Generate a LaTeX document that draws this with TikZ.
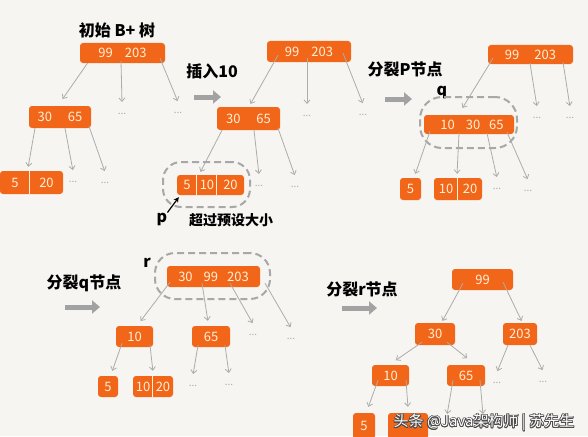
\documentclass[tikz,border=0pt]{standalone}
\usepackage{fontspec}
\usepackage{tikz}
\usetikzlibrary{positioning}
\usetikzlibrary{calc}
\usepgflibrary{arrows.meta}
\usepackage{xcolor}
\usepackage{contour}
\newfontfamily\cjk{Noto Sans CJK SC}
\definecolor{paper}{RGB}{246,245,241}
\definecolor{bnode}{RGB}{242,102,26}
\definecolor{keytext}{RGB}{255,240,214}
\definecolor{ptrgray}{RGB}{172,172,172}
\definecolor{movegray}{RGB}{162,162,162}
\definecolor{ringgray}{RGB}{168,168,168}
\contourlength{0.7pt}

\begin{document}
\begin{tikzpicture}[x=1pt, y=-1pt,
    keybox/.style={fill=bnode, rounded corners=3pt, inner sep=0pt, text=keytext, font=\cjk\fontsize{13}{13}\selectfont},
    keycut/.style={draw=keytext, line width=0.9pt},
    ptr/.style={draw=ptrgray, line width=0.8pt, -{Straight Barb[length=3.5pt,width=6pt]}, shorten >=1pt},
    dotsnode/.style={anchor=north, inner sep=0pt, text height=11pt, text depth=0pt, text=ptrgray, font=\cjk\fontsize{10}{10}\selectfont},
    dashring/.style={draw=ringgray, line width=2pt, dash pattern=on 7pt off 4pt},
    movearrow/.style={draw=movegray, line width=5pt, -{Triangle[length=8pt,width=13pt]}},
    steplabel/.style={font=\cjk\bfseries\fontsize{16}{18}\selectfont, inner sep=0pt},
    pointer/.style={draw=black, line width=1.2pt, -{Stealth[length=5pt,width=5pt]}}]
    \path[fill=paper] (0,0) rectangle (588,436);
    \useasboundingbox (0,0) rectangle (588,436);

    % initial tree
    \node[steplabel] (title1) at (117,30) {初始 B+ 树};
    \node[keybox, minimum width=85pt, minimum height=20pt] (root1) at (122.5,53) {99\hspace{12pt}203};
    \node[keybox, minimum width=62pt, minimum height=22pt] (node1) at (60,117) {30\hspace{16pt}65};
    \node[keybox, minimum height=23pt] (leaf1) at (31.5,182.5) {\makebox[30pt]{5}\makebox[33pt]{20}};
    \draw[keycut] ([xshift=30pt]leaf1.north west) -- ([xshift=30pt]leaf1.south west);
    \node[dotsnode] (dots1a) at (122,103) {...};
    \node[dotsnode] (dots1b) at (178,102) {...};
    \node[dotsnode] (dots1c) at (73,171) {...};
    \node[dotsnode] (dots1d) at (105,172) {...};
    \draw[ptr] ([xshift=-35pt]root1.south) -- ([xshift=2pt,yshift=6pt]node1.north);
    \draw[ptr] ([xshift=-1.5pt,yshift=2pt]root1.south) -- (dots1a.north);
    \draw[ptr] ([xshift=37.5pt,yshift=5pt]root1.south) -- (dots1b.north);
    \draw[ptr] ([xshift=-25pt]node1.south) -- ([xshift=-3.5pt,yshift=3pt]leaf1.north);
    \draw[ptr] ([xshift=5pt]node1.south) -- (dots1c.north);
    \draw[ptr] ([xshift=29pt,yshift=2pt]node1.south) -- (dots1d.north);

    % insert 10
    \node[steplabel] (title2) at (212,71) {插入10};
    \path[movearrow] (194,97) -- (221,97);
    \node[keybox, minimum width=84pt, minimum height=21pt] (root2) at (309,51.5) {99\hspace{12pt}203};
    \node[keybox, minimum width=63pt, minimum height=23pt] (node2) at (248.5,118.5) {30\hspace{16pt}65};
    \node[dashring, minimum width=87pt, minimum height=45pt, rounded corners=18pt] (ringp) at (206.5,184.5) {};
    \node[keybox, minimum height=20pt] (leaf2) at (210.5,185) {\makebox[20pt]{5}\makebox[20pt]{10}\makebox[27pt]{20}};
    \draw[keycut] ([xshift=20pt]leaf2.north west) -- ([xshift=20pt]leaf2.south west);
    \draw[keycut] ([xshift=40pt]leaf2.north west) -- ([xshift=40pt]leaf2.south west);
    \node[dotsnode] (dots2a) at (307,105) {...};
    \node[dotsnode] (dots2b) at (363,104) {...};
    \node[dotsnode] (dots2c) at (259,175) {...};
    \node[dotsnode] (dots2d) at (295,176) {...};
    \draw[ptr] ([xshift=-31pt,yshift=7pt]root2.south) -- ([xshift=1.5pt,yshift=2pt]node2.north);
    \draw[ptr] ([xshift=-2pt,yshift=4pt]root2.south) -- (dots2a.north);
    \draw[ptr] ([xshift=34pt,yshift=9pt]root2.south) -- (dots2b.north);
    \draw[ptr] ([xshift=-26.5pt]node2.south) -- ([xshift=-10.5pt,yshift=2pt]leaf2.north);
    \draw[ptr] ([xshift=5.5pt]node2.south) -- (dots2c.north);
    \draw[ptr] ([xshift=29.5pt,yshift=2pt]node2.south) -- (dots2d.north);
    \node[steplabel] (plabel) at (162,219) {p};
    \draw[pointer] (plabel.north east) -- ([xshift=2pt,yshift=-2pt]leaf2.south west);
    \node[steplabel, font=\cjk\bfseries\fontsize{14}{16}\selectfont] (note2) at (231,220) {超过预设大小};

    % split p
    \node[steplabel] (title3) at (405,69) {分裂P节点};
    \path[movearrow] (385,99) -- (412,99);
    \node[keybox, minimum width=85pt, minimum height=19pt] (root3) at (530.5,54.5) {99\hspace{15pt}203};
    \node[steplabel] (qlabel) at (442,92) {q};
    \node[dashring, minimum width=97pt, minimum height=51pt, rounded corners=22pt] (ringq) at (468.5,122.5) {};
    \node[keybox, minimum width=90pt, minimum height=19pt] (node3) at (469,124.5) {\hspace{6pt}10\hspace{11pt}30\hspace{9pt}65};
    \node[keybox, minimum width=21pt, minimum height=22pt] (leaf3a) at (410.5,189) {5};
    \node[keybox, minimum height=22pt] (leaf3b) at (458,189) {\makebox[24pt]{10}\makebox[24pt]{20}};
    \draw[keycut] ([xshift=24pt]leaf3b.north west) -- ([xshift=24pt]leaf3b.south west);
    \node[dotsnode] (dots3a) at (537,107) {...};
    \node[dotsnode] (dots3b) at (570,107) {...};
    \node[dotsnode] (dots3c) at (497,178) {...};
    \node[dotsnode] (dots3d) at (528,180) {...};
    \draw[ptr] ([xshift=-37.5pt,yshift=6pt]root3.south) -- ([xshift=-7pt,yshift=6pt]node3.north);
    \draw[ptr] ([xshift=-0.5pt,yshift=1pt]root3.south) -- (dots3a.north);
    \draw[ptr] ([xshift=32.5pt,yshift=2pt]root3.south) -- (dots3b.north);
    \draw[ptr] ([xshift=-39pt,yshift=3pt]node3.south) -- ([xshift=4.5pt,yshift=3pt]leaf3a.north);
    \draw[ptr] ([xshift=-10pt,yshift=1pt]node3.south) -- ([xshift=-1pt,yshift=3pt]leaf3b.north);
    \draw[ptr] ([xshift=18pt,yshift=1pt]node3.south) -- (dots3c.north);
    \draw[ptr] ([xshift=38pt,yshift=2pt]node3.south) -- (dots3d.north);

    % split q
    \node[steplabel] (title4) at (84,283) {分裂q节点};
    \path[movearrow] (65,307) -- (100,307);
    \node[steplabel] (rlabel) at (147,263) {r};
    \node[dashring, minimum width=115pt, minimum height=46pt, rounded corners=20pt] (ringr) at (212.5,276) {};
    \node[keybox, minimum width=93pt, minimum height=21pt] (root4) at (213.5,276.5) {30\hspace{11pt}99\hspace{9pt}203};
    \node[keybox, minimum width=37pt, minimum height=21pt] (node4a) at (134.5,336.5) {10};
    \node[keybox, minimum width=38pt, minimum height=21pt] (node4b) at (211,336.5) {65};
    \node[keybox, minimum width=20pt, minimum height=21pt] (leaf4a) at (108,386.5) {5};
    \node[keybox, minimum height=21pt] (leaf4b) at (153,386.5) {\makebox[20pt]{10}\makebox[20pt]{20}};
    \draw[keycut] ([xshift=20pt]leaf4b.north west) -- ([xshift=20pt]leaf4b.south west);
    \node[dotsnode] (dots4a) at (253,324) {...};
    \node[dotsnode] (dots4b) at (291,328) {...};
    \node[dotsnode] (dots4c) at (193,375) {...};
    \node[dotsnode] (dots4d) at (229,374) {...};
    \draw[ptr] ([xshift=-43.5pt,yshift=5pt]root4.south) -- ([xshift=5.5pt,yshift=4pt]node4a.north);
    \draw[ptr] ([xshift=-11.5pt,yshift=4pt]root4.south) -- ([xshift=-3pt,yshift=4pt]node4b.north);
    \draw[ptr] ([xshift=16.5pt,yshift=4pt]root4.south) -- (dots4a.north);
    \draw[ptr] ([xshift=51.5pt,yshift=4pt]root4.south) -- (dots4b.north);
    \draw[ptr] ([xshift=-12.5pt,yshift=4pt]node4a.south) -- ([xshift=4pt,yshift=4pt]leaf4a.north);
    \draw[ptr] ([xshift=15.5pt,yshift=2pt]node4a.south) -- ([yshift=4pt]leaf4b.north);
    \draw[ptr] ([xshift=-13pt,yshift=2pt]node4b.south) -- (dots4c.north);
    \draw[ptr] ([xshift=14pt,yshift=2pt]node4b.south) -- (dots4d.north);

    % split r
    \node[steplabel] (title5) at (362,289) {分裂r节点};
    \path[movearrow] (342,308) -- (377,308);
    \node[keybox, minimum width=61pt, minimum height=21pt] (root5) at (482.5,279.5) {99};
    \node[keybox, minimum width=40pt, minimum height=22pt] (node5a) at (435,334) {30};
    \node[keybox, minimum width=34pt, minimum height=22pt] (node5b) at (520,334) {203};
    \node[keybox, minimum width=37pt, minimum height=21pt] (node5c) at (390.5,375.5) {10};
    \node[keybox, minimum width=38pt, minimum height=21pt] (node5d) at (466,375.5) {65};
    \node[keybox, minimum width=22pt, minimum height=26pt] (leaf5a) at (364,426) {5};
    \node[keybox, minimum width=40pt, minimum height=26pt] (leaf5b) at (408,426) {};
    \node[dotsnode] (dots5a) at (497,372) {...};
    \node[dotsnode] (dots5b) at (543,371) {...};
    \coordinate (tip5e) at (447,415);
    \coordinate (tip5f) at (483,415);
    \draw[ptr] ([xshift=-19.5pt,yshift=7pt]root5.south) -- ([xshift=7pt,yshift=1pt]node5a.north);
    \draw[ptr] ([xshift=20.5pt,yshift=8pt]root5.south) -- ([xshift=2pt,yshift=1pt]node5b.north);
    \draw[ptr] ([xshift=-13pt,yshift=3pt]node5a.south) -- ([xshift=4.5pt,yshift=4pt]node5c.north);
    \draw[ptr] ([xshift=12pt,yshift=3pt]node5a.south) -- ([xshift=2pt,yshift=6pt]node5d.north);
    \draw[ptr] ([xshift=-12pt]node5b.south) -- (dots5a.north);
    \draw[ptr] ([xshift=10pt]node5b.south) -- (dots5b.north);
    \draw[ptr] ([xshift=-12.5pt,yshift=6pt]node5c.south) -- ([xshift=4pt,yshift=5pt]leaf5a.north);
    \draw[ptr] ([xshift=15.5pt,yshift=6pt]node5c.south) -- ([yshift=5pt]leaf5b.north);
    \draw[ptr] ([xshift=-13pt,yshift=6pt]node5d.south) -- (tip5e);
    \draw[ptr] ([xshift=14pt,yshift=6pt]node5d.south) -- (tip5f);

    \node[inner sep=0pt, text=white, font=\cjk\fontsize{15}{17}\selectfont] (mark) at (484,423) {\contour{black!70}{头条 @Java架构师 | 苏先生}};
\end{tikzpicture}
\end{document}
